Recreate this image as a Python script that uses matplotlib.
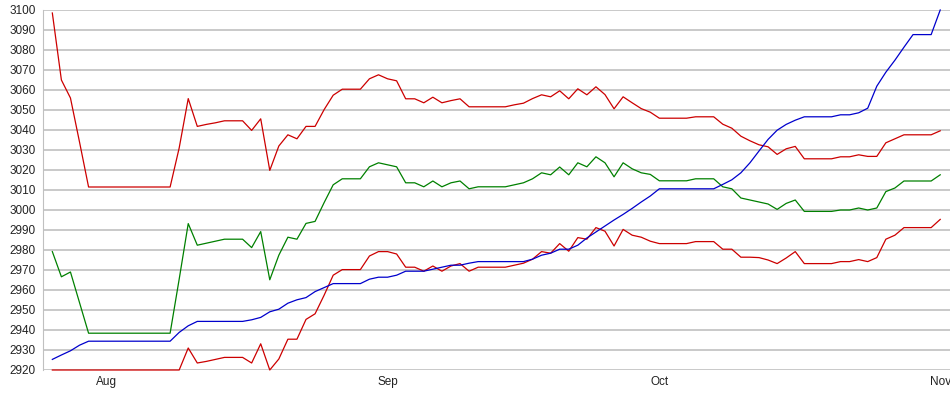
import matplotlib
matplotlib.use('Agg')
import matplotlib.pyplot as plt
import matplotlib.dates as mdates
import pandas as pd

# daily values, Jul 26 .. Nov 1
dates = pd.date_range('2008-07-26', '2008-11-01', freq='D')

upper = [3098.5, 3065, 3056, 3034, 3011.5, 3011.5, 3011.5, 3011.5, 3011.5, 3011.5,
         3011.5, 3011.5, 3011.5, 3011.5, 3031, 3055.7, 3041.8, 3042.8, 3043.6, 3044.6,
         3044.6, 3044.6, 3039.8, 3045.6, 3019.8, 3032, 3037.6, 3035.6, 3041.8, 3041.8,
         3050.2, 3057.4, 3060.4, 3060.4, 3060.4, 3065.6, 3067.6, 3065.6, 3064.6, 3055.6,
         3055.6, 3053.6, 3056.4, 3053.6, 3054.7, 3055.6, 3051.6, 3051.6, 3051.6, 3051.6,
         3051.6, 3052.6, 3053.4, 3055.7, 3057.6, 3056.6, 3059.6, 3055.6, 3060.6, 3057.6,
         3061.6, 3057.7, 3050.6, 3056.6, 3053.6, 3050.7, 3048.9, 3045.9, 3045.9, 3045.9,
         3045.9, 3046.6, 3046.6, 3046.6, 3042.9, 3040.9, 3036.9, 3034.6, 3032.6, 3031.6,
         3027.8, 3030.6, 3031.8, 3025.6, 3025.6, 3025.6, 3025.6, 3026.6, 3026.6, 3027.6,
         3026.8, 3026.8, 3033.6, 3035.6, 3037.6, 3037.6, 3037.6, 3037.6, 3039.6]

middle = [2979.2, 2966.6, 2969, 2953.7, 2938.4, 2938.4, 2938.4, 2938.4, 2938.4, 2938.4,
          2938.4, 2938.4, 2938.4, 2938.4, 2965.4, 2993.2, 2982.4, 2983.4, 2984.4, 2985.4,
          2985.4, 2985.4, 2981.2, 2989.2, 2965.1, 2977.4, 2986.4, 2985.4, 2993.3, 2994.3,
          3003.7, 3012.6, 3015.6, 3015.6, 3015.6, 3021.6, 3023.6, 3022.6, 3021.6, 3013.6,
          3013.6, 3011.6, 3014.5, 3011.6, 3013.6, 3014.5, 3010.6, 3011.6, 3011.6, 3011.6,
          3011.6, 3012.6, 3013.6, 3015.6, 3018.6, 3017.6, 3021.5, 3017.6, 3023.6, 3021.6,
          3026.6, 3023.6, 3016.6, 3023.6, 3020.6, 3018.6, 3017.8, 3014.6, 3014.6, 3014.6,
          3014.6, 3015.6, 3015.6, 3015.6, 3011.6, 3010.6, 3006, 3005, 3004, 3003,
          3000.3, 3003.3, 3005, 2999.3, 2999.3, 2999.3, 2999.3, 3000, 3000, 3001,
          3000, 3001, 3009.2, 3011, 3014.5, 3014.5, 3014.5, 3014.5, 3017.6]

lower = [2920, 2920, 2920, 2920, 2920, 2920, 2920, 2920, 2920, 2920,
         2920, 2920, 2920, 2920, 2920, 2931, 2923.5, 2924.3, 2925.3, 2926.3,
         2926.3, 2926.3, 2923.5, 2933.1, 2920, 2925.5, 2935.4, 2935.4, 2945.3, 2948.1,
         2957.4, 2967.4, 2970.2, 2970.2, 2970.2, 2977, 2979.2, 2979.2, 2978, 2971.4,
         2971.4, 2969.4, 2972, 2969.4, 2972, 2973.2, 2969.4, 2971.4, 2971.4, 2971.4,
         2971.4, 2972.4, 2973.4, 2975.4, 2979.2, 2978.4, 2983.2, 2979.4, 2986.2, 2985.4,
         2991.2, 2989.4, 2982, 2990.3, 2987.4, 2986.4, 2984.4, 2983.2, 2983.2, 2983.2,
         2983.2, 2984.2, 2984.2, 2984.2, 2980.4, 2980.4, 2976.4, 2976.4, 2976.2, 2975,
         2973.2, 2976, 2979.2, 2973.2, 2973.2, 2973.2, 2973.2, 2974.2, 2974.2, 2975.2,
         2974.2, 2976.2, 2985.4, 2987.4, 2991.2, 2991.2, 2991.2, 2991.2, 2995.3]

price = [2925.3, 2927.5, 2929.6, 2932.4, 2934.4, 2934.4, 2934.4, 2934.4, 2934.4, 2934.4,
         2934.4, 2934.4, 2934.4, 2934.4, 2938.8, 2942.1, 2944.3, 2944.3, 2944.3, 2944.3,
         2944.3, 2944.3, 2945.1, 2946.3, 2949.1, 2950.4, 2953.4, 2955.1, 2956.2, 2959.2,
         2961.2, 2963.2, 2963.2, 2963.2, 2963.2, 2965.4, 2966.4, 2966.4, 2967.4, 2969.4,
         2969.4, 2969.4, 2970.4, 2971.4, 2972.4, 2972.4, 2973.4, 2974.2, 2974.2, 2974.2,
         2974.2, 2974.2, 2974.2, 2975.4, 2977.4, 2978.4, 2980.4, 2980.4, 2982.4, 2986,
         2989, 2992, 2995, 2997.8, 3000.8, 3004, 3007, 3010.6, 3010.6, 3010.6,
         3010.6, 3010.6, 3010.6, 3010.6, 3012.8, 3015.1, 3018.6, 3023.6, 3029.5, 3035.3,
         3039.9, 3042.8, 3044.9, 3046.6, 3046.6, 3046.6, 3046.6, 3047.6, 3047.6, 3048.6,
         3050.9, 3061.9, 3068.9, 3074.9, 3081.4, 3087.7, 3087.7, 3087.7, 3100]

yticks = list(range(2920, 3101, 10))

plt.rcParams['font.family'] = ['Liberation Sans', 'DejaVu Sans']

fig = plt.figure(figsize=(9.5, 3.95), dpi=100)
ax = fig.add_axes([43 / 950, 25 / 395, 907 / 950, 360 / 395])

ax.plot(dates, upper, color='#cc0000', lw=0.9)
ax.plot(dates, middle, color='#008000', lw=0.9)
ax.plot(dates, lower, color='#cc0000', lw=0.9, clip_on=False)
ax.plot(dates, price, color='#0000cc', lw=0.9, clip_on=False)

ax.set_ylim(2920, 3100)
ax.set_xlim(dates[0] - pd.Timedelta(days=1.03), dates[-1] + pd.Timedelta(days=1.08))
ax.set_yticks(yticks)
ax.yaxis.grid(True, color='#c0c0c0', lw=1.2)
ax.set_axisbelow(True)

ax.xaxis.set_major_locator(mdates.MonthLocator())
ax.xaxis.set_major_formatter(mdates.DateFormatter('%b'))

for s in ['top', 'right', 'bottom']:
    ax.spines[s].set_visible(False)
ax.spines['left'].set_color('#c0c0c0')
ax.tick_params(length=0, labelsize=8.5, colors='#222222')
ax.tick_params(axis='y', pad=5)
ax.tick_params(axis='x', pad=4)

fig.savefig('out.png', dpi=100)
